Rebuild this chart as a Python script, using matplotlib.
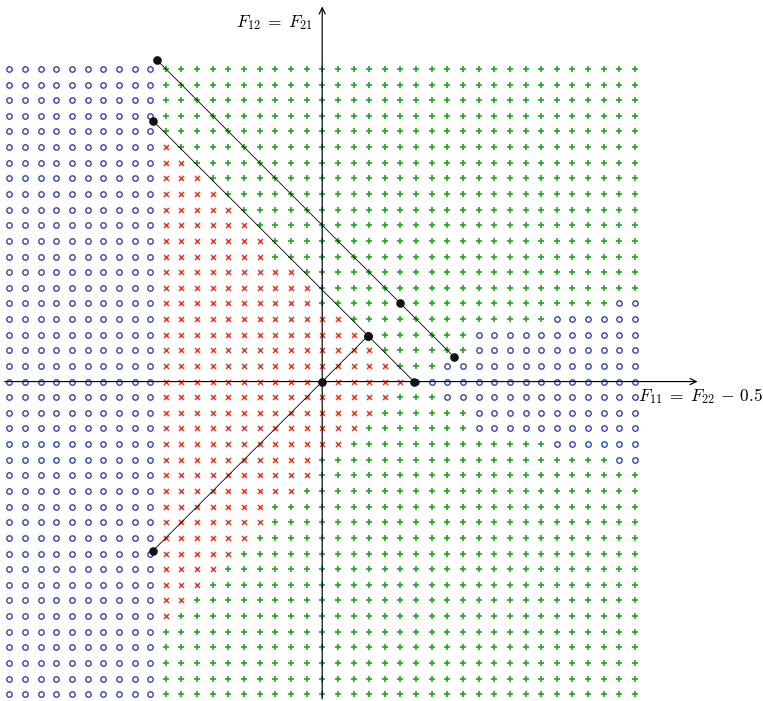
import numpy as np
import matplotlib
matplotlib.use("Agg")
import matplotlib.pyplot as plt

plt.rcParams["mathtext.fontset"] = "cm"

# Lattice of sample points (F11 = F22 - 0.5 on x, F12 = F21 on y)
grid_x = np.arange(-20, 21) / 10.0
grid_y = np.arange(-20, 21) / 10.0

# Left blue band: every column up to this x
left_blue_max = -1.1
# Right end of the red region for row |y| = 0.0, 0.1, 0.2, ...
red_right = [0.5, 0.4, 0.3, 0.2, 0.1, -0.1, -0.1, -0.2, -0.4, -0.4,
             -0.5, -0.6, -0.7, -0.8, -0.9, -1.0]
# Start of the right blue region for row |y| = 0.0, 0.1, ...
blue_right = [0.6, 0.8, 1.0, 1.0, 1.5, 1.9]

# Critical lines and their marked points
line_a = [(-1.054, 2.054), (0.5, 0.5), (0.845, 0.155)]
line_b = [(-1.083, 1.669), (0.293, 0.293), (0.586, 0.0)]
line_c = [(-1.084, -1.084), (0.0, 0.0), (0.293, 0.293)]

axis_start = -2.03
axis_end = 2.4

x_label = r"$F_{11}\;=\;F_{22}\,-\,0.5$"
y_label = r"$F_{12}\;=\;F_{21}$"

blue_c = "#3446ab"
red_c = "#e63a2f"
green_c = "#22a522"


def classify(x, y):
    ix = int(round(x * 10))
    k = int(round(abs(y) * 10))
    if ix <= int(round(left_blue_max * 10)):
        return "blue"
    if k < len(red_right) and ix <= int(round(red_right[k] * 10)):
        return "red"
    if k < len(blue_right) and ix >= int(round(blue_right[k] * 10)):
        return "blue"
    return "green"


pts = {"blue": ([], []), "red": ([], []), "green": ([], [])}
for y in grid_y:
    for x in grid_x:
        c = classify(x, y)
        pts[c][0].append(x)
        pts[c][1].append(y)

fig = plt.figure(figsize=(7.63, 7.01), dpi=100)
ax = fig.add_axes([0, 0, 1, 1])
ax.set_xlim(-2.060, 2.818)
ax.set_ylim(-2.0435, 2.441)
ax.axis("off")

ax.plot(pts["blue"][0], pts["blue"][1], ls="none", marker="o", ms=3.9,
        mfc="none", mec=blue_c, mew=1.0, zorder=2)
ax.plot(pts["red"][0], pts["red"][1], ls="none", marker="x", ms=3.6,
        mec=red_c, mew=1.1, zorder=2)
ax.plot(pts["green"][0], pts["green"][1], ls="none", marker="+", ms=5.0,
        mec=green_c, mew=1.2, zorder=2)

# Coordinate axes with arrow tips
arrow = dict(arrowstyle="->,head_length=0.45,head_width=0.22", lw=0.85,
             color="black", shrinkA=0, shrinkB=0)
ax.annotate("", xy=(axis_end, 0), xytext=(axis_start, 0), arrowprops=arrow,
            zorder=3)
ax.annotate("", xy=(0, axis_end), xytext=(0, axis_start), arrowprops=arrow,
            zorder=3)

for line in (line_a, line_b, line_c):
    xs, ys = zip(*line)
    ax.plot(xs, ys, color="black", lw=0.6, zorder=4)
    ax.plot(xs, ys, ls="none", marker="o", ms=5.2, color="#111111", zorder=5)

ax.annotate(x_label, xy=(axis_end, 0), xytext=(2, -3.5),
            textcoords="offset points", ha="center", va="top", fontsize=12.5)
ax.annotate(y_label, xy=(0, axis_end), xytext=(-6.5, -4.5),
            textcoords="offset points", ha="right", va="top", fontsize=12.5)

fig.savefig("out.png", dpi=100)
